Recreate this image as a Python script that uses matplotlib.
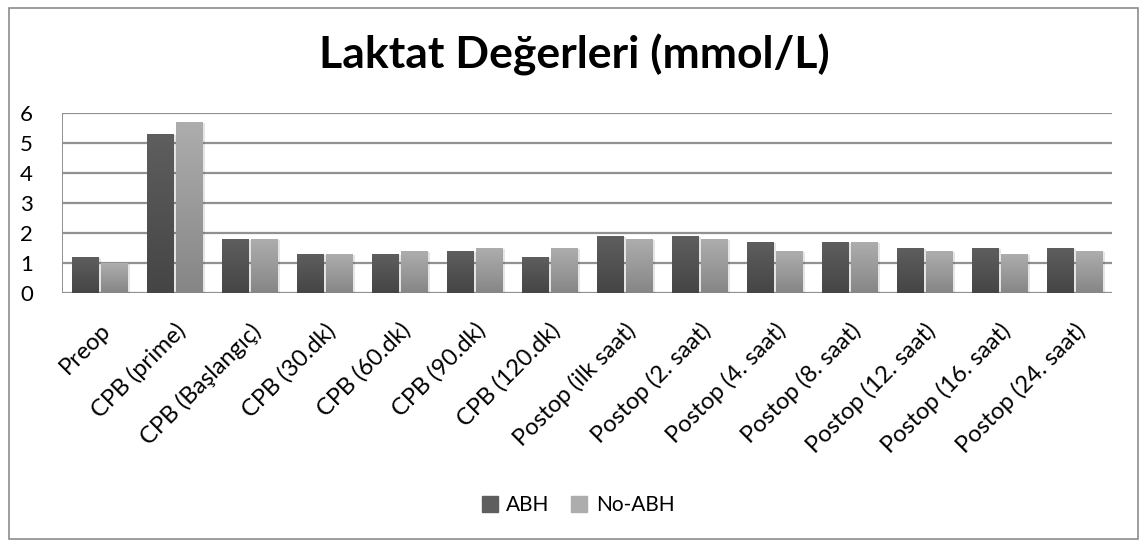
import numpy as np
import matplotlib
matplotlib.use("Agg")
import matplotlib.pyplot as plt
from matplotlib.patches import Rectangle
from matplotlib.colors import LinearSegmentedColormap

plt.rcParams['font.family'] = ['Lato', 'DejaVu Sans']

CATEGORIES = ['Preop', 'CPB (prime)', 'CPB (Başlangıç)', 'CPB (30.dk)', 'CPB (60.dk)',
              'CPB (90.dk)', 'CPB (120.dk)', 'Postop (ilk saat)', 'Postop (2. saat)',
              'Postop (4. saat)', 'Postop (8. saat)', 'Postop (12. saat)',
              'Postop (16. saat)', 'Postop (24. saat)']
ABH = [1.2, 5.3, 1.8, 1.3, 1.3, 1.4, 1.2, 1.9, 1.9, 1.7, 1.7, 1.5, 1.5, 1.5]
NO_ABH = [1.0, 5.7, 1.8, 1.3, 1.4, 1.5, 1.5, 1.8, 1.8, 1.4, 1.7, 1.4, 1.3, 1.4]
SERIES = ['ABH', 'No-ABH']
Y_TICKS = [0, 1, 2, 3, 4, 5, 6]

# gradients (top colour, bottom colour)
SHADES = {'ABH': ('#5e5e5e', '#454545'), 'No-ABH': ('#adadad', '#868686')}


def gradient_bar(ax, x, w, h, top, bottom):
    cmap = LinearSegmentedColormap.from_list('g', [bottom, top])
    grad = np.linspace(0, 1, 64).reshape(-1, 1)
    # soft shadow
    ax.add_patch(Rectangle((x + 0.02, 0), w + 0.02, h - 0.02, color='#000000',
                           alpha=0.10, lw=0, zorder=2))
    ax.imshow(grad, cmap=cmap, origin='lower', aspect='auto',
              extent=(x, x + w, 0, h), zorder=3, interpolation='bilinear')


fig = plt.figure(figsize=(11.47, 5.47), dpi=100)
fig.patches.append(Rectangle((9 / 1147, 8 / 547), 1129 / 1147, 531 / 547,
                             transform=fig.transFigure, fill=False,
                             edgecolor='#8c8c8c', lw=1.2))

ax = fig.add_axes([62 / 1147, 1 - 293 / 547, 1050 / 1147, 180 / 547])
x = np.arange(len(CATEGORIES))
width = 0.35
gap = 0.03
for i in x:
    gradient_bar(ax, i - width - gap / 2, width, ABH[i], *SHADES['ABH'])
    gradient_bar(ax, i + gap / 2, width, NO_ABH[i], *SHADES['No-ABH'])

ax.set_xlim(-0.5, len(CATEGORIES) - 0.5)
ax.set_ylim(0, 6)
ax.set_yticks(Y_TICKS)
for y in Y_TICKS:
    ax.axhline(y, color='#919191', lw=1.6, zorder=1)
ax.axvline(-0.5, color='#919191', lw=1.4, zorder=1)
for s in ax.spines.values():
    s.set_visible(False)
ax.tick_params(axis='y', length=0, pad=21, labelsize=16)
ax.tick_params(axis='x', length=0, pad=19, labelsize=17)
ax.set_xticks(x)
ax.set_xticklabels(CATEGORIES, rotation=45, ha='right', rotation_mode='anchor')
for lab in ax.get_yticklabels():
    lab.set_horizontalalignment('right')

fig.text(574 / 1147, 1 - 55 / 547, 'Laktat Değerleri (mmol/L)', ha='center', va='center',
         fontsize=32, fontweight='bold')

handles = [Rectangle((0, 0), 1, 1, color=SHADES[s][0]) for s in SERIES]
fig.legend(handles, SERIES, loc='center', bbox_to_anchor=(578 / 1147, 1 - 505 / 547),
           ncol=2, frameon=False, fontsize=15, handlelength=0.77, handleheight=0.77,
           handletextpad=0.4, columnspacing=1.05)

fig.savefig('out.png', dpi=100)
